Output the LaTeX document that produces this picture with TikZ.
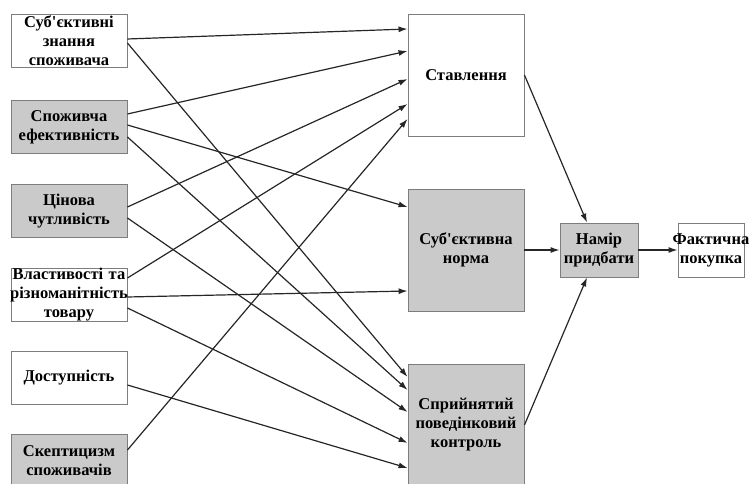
\documentclass[tikz,border=0pt]{standalone}
\usepackage{fontspec}
\setmainfont{Liberation Serif}
\usetikzlibrary{arrows.meta}
\definecolor{boxgrey}{RGB}{202,202,202}
\definecolor{edgegrey}{RGB}{125,125,125}
\newcommand{\fitline}[1]{\makebox[\hsize][c]{#1}}
\tikzset{
  box/.style={draw=edgegrey, line width=0.9pt, fill=white, inner sep=0pt, align=center,
    font=\bfseries\fontsize{16.5}{19}\selectfont},
  shaded/.style={box, fill=boxgrey},
  leftbox/.style={minimum width=116, minimum height=53, text width=116},
  midbox/.style={minimum width=116, minimum height=122, text width=116},
  arr/.style={-{Latex[length=9pt,width=6pt]}, line width=1.2pt, black!85},
}
\begin{document}
\begin{tikzpicture}[x=1pt,y=1pt]
	\useasboundingbox (0,0) rectangle (752,484);
	% factors
	\node[box, leftbox] (knowledge) at (69,443) {Суб\textquotesingle єктивні\\знання\\споживача};
	\node[shaded, leftbox] (efficacy) at (69,357) {Споживча\\ефективність};
	\node[shaded, leftbox] (price) at (69,273) {Цінова\\чутливість};
	\node[box, leftbox] (variety) at (69,189.5) {\fitline{Властивості та}\\\fitline{різноманітність}\\товару};
	\node[box, leftbox] (access) at (69,106.5) {Доступність};
	\node[shaded, leftbox] (scepticism) at (69,23) {Скептицизм\\споживачів};
	% determinants
	\node[box, midbox] (attitude) at (466,409) {Ставлення};
	\node[shaded, midbox] (norm) at (466,234) {Суб\textquotesingle єктивна\\норма};
	\node[shaded, midbox] (control) at (466,59) {Сприйнятий\\поведінковий\\контроль};
	\node[shaded, minimum width=78, minimum height=54, text width=78] (intention) at (599,234) {Намір\\придбати};
	\node[box, minimum width=66, minimum height=54, text width=66] (purchase) at (711,234) {\fitline{Фактична}\\\fitline{покупка}};
	% factors -> determinants
	\draw[arr] ([yshift=2]knowledge.east) -- ([yshift=46]attitude.west);
	\draw[arr] ([yshift=-2]knowledge.east) -- ([yshift=48]control.west);
	\draw[arr] ([yshift=13]efficacy.east) -- ([yshift=24]attitude.west);
	\draw[arr] ([yshift=2]efficacy.east) -- ([yshift=43]norm.west);
	\draw[arr] ([yshift=-10]efficacy.east) -- ([yshift=35]control.west);
	\draw[arr] ([yshift=4]price.east) -- ([yshift=-4]attitude.west);
	\draw[arr] ([yshift=-7]price.east) -- ([yshift=13]control.west);
	\draw[arr] ([yshift=16.5]variety.east) -- ([yshift=-29]attitude.west);
	\draw[arr] ([yshift=-2.5]variety.east) -- ([yshift=-41]norm.west);
	\draw[arr] ([yshift=-13.5]variety.east) -- ([yshift=-18]control.west);
	\draw[arr] ([yshift=-7.5]access.east) -- ([yshift=-43]control.west);
	\draw[arr] ([yshift=11]scepticism.east) -- ([yshift=-44]attitude.west);
	% determinants -> intention -> purchase
	\draw[arr] (attitude.east) -- ([xshift=-12]intention.north);
	\draw[arr] (norm.east) -- (intention.west);
	\draw[arr] (control.east) -- ([xshift=-12]intention.south);
	\draw[arr] (intention.east) -- (purchase.west);
\end{tikzpicture}
\end{document}
